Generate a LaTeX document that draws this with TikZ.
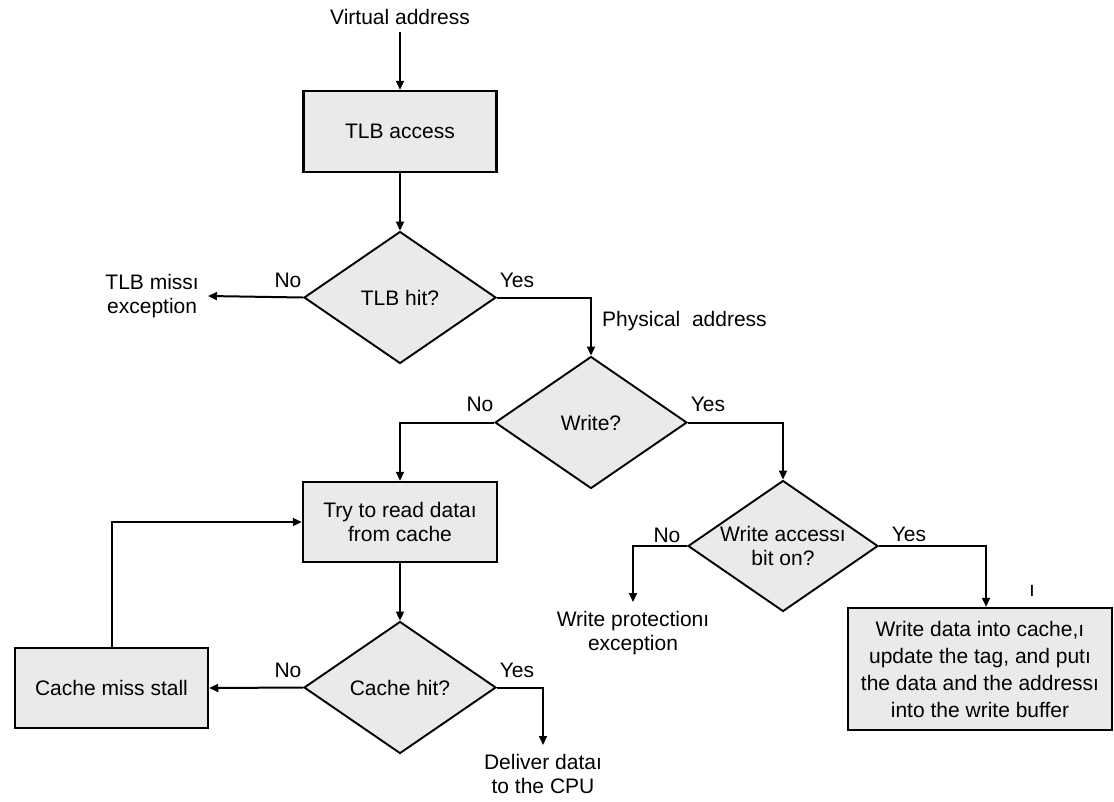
\documentclass[tikz,border=0pt]{standalone}
\usepackage{fontspec}
\setmainfont{Liberation Sans}
\usepackage{xcolor}
\usepackage{tikz}
\usetikzlibrary{shapes.geometric}
\usetikzlibrary{arrows, arrows.meta}
\definecolor{boxgray}{RGB}{234,234,234}
\begin{document}
\begin{tikzpicture}[x=1pt, y=-1pt,
    every node/.style={font=\fontsize{21}{24}\selectfont},
    box/.style={draw, line width=2.5pt, fill=boxgray, minimum width=193pt, minimum height=81pt, inner sep=0pt, align=center},
    dec/.style={diamond, draw, line width=1.9pt, fill=boxgray, shape aspect=1.45, minimum width=192pt, minimum height=132pt, inner sep=0pt, align=center},
    txt/.style={align=center, inner sep=9pt},
    lbl/.style={inner sep=0pt, anchor=base},
    arr/.style={-{Triangle[length=9pt, width=8pt]}, line width=2pt}]
    \useasboundingbox (0,0) rectangle (1114,801);

    \node[txt, anchor=base, inner sep=0pt] (vaddr) at (400,24) {Virtual address};
    \node[box] (tlb) at (400,131.5) {TLB access};
    \node[dec] (tlbhit) at (400,297.5) {TLB hit?};
    \node[txt, anchor=east] (tlbmiss) at (208,296) {TLB missı\\exception};
    \node[dec] (write) at (591,422.5) {Write?};
    \node[box, minimum width=194pt, minimum height=80pt] (tryread) at (400,522) {Try to read dataı\\from cache};
    \node[dec] (cachehit) at (400,687.5) {Cache hit?};
    \node[box, minimum height=80pt] (cachemiss) at (111.5,688) {Cache miss stall};
    \node[txt, anchor=north] (deliver) at (543,745) {Deliver dataı\\to the CPU};
    \node[dec, minimum width=190pt, minimum height=131pt] (wacc) at (783,546) {Write accessı\\bit on?};
    \node[txt, anchor=north] (wprot) at (633,602) {Write protectionı\\exception};
    \node[box, minimum width=264pt, minimum height=122pt, font=\fontsize{21}{27}\selectfont] (wdata) at (980,669) {Write data into cache,ı\\update the tag, and putı\\the data and the addressı\\into the write buffer};
    \node[lbl] (stray) at (1032,596) {ı};

    \node[lbl, anchor=base west] (phys) at (602,326) {Physical\ \ address};
    \node[lbl] (tlbno) at (288,287) {No};
    \node[lbl] (tlbyes) at (517,287) {Yes};
    \node[lbl] (wrno) at (480,411) {No};
    \node[lbl] (wryes) at (708,411) {Yes};
    \node[lbl] (wano) at (667,542) {No};
    \node[lbl] (wayes) at (909,541) {Yes};
    \node[lbl] (chno) at (288,677) {No};
    \node[lbl] (chyes) at (517,677) {Yes};

    \draw[arr] (vaddr.south) ++(0,8) -- (tlb.north);
    \draw[arr] (tlb.south) -- (tlbhit.north);
    \draw[arr] (tlbhit.west) -- (tlbmiss.east);
    \draw[arr] (tlbhit.east) -| (write.north);
    \draw[arr] (write.west) -| (tryread.north);
    \draw[arr] (write.east) -| (wacc.north);
    \draw[arr] (tryread.south) -- (cachehit.north);
    \draw[arr] (cachehit.west) -- (cachemiss.east);
    \draw[arr] (cachemiss.north) |- (tryread.west);
    \draw[arr] (cachehit.east) -| (deliver.north);
    \draw[arr] (wacc.west) -| (wprot.north);
    \draw[arr] (wacc.east) -| ([xshift=6pt]wdata.north);
\end{tikzpicture}
\end{document}
